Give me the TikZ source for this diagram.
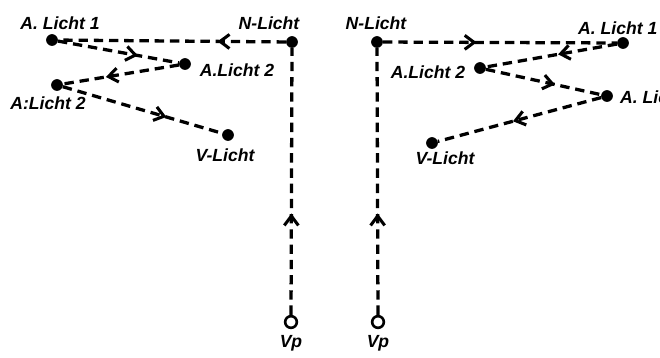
\documentclass[tikz,border=0pt]{standalone}
\usepackage{fontspec}
\setmainfont{Liberation Sans}
\usetikzlibrary{arrows.meta}
\usetikzlibrary{decorations.markings}
\tikzset{circ/.style = {fill, circle, inner sep = 0, minimum size = 10}}
\tikzset{ring/.style = {draw, circle, fill = white, line width = 2.2pt, inner sep = 0, minimum size = 10}}
\tikzset{lab/.style = {font = \fontsize{15}{17}\selectfont\bfseries\itshape, inner sep = 0}}
\tikzset{route/.style = {line width = 2.8pt, dash pattern = on 8pt off 5pt,
    decoration = {markings, mark = at position #1 with {\arrow{Straight Barb[line width = 2.6pt, length = 8pt, width = 12pt]}}},
    postaction = {decorate}}}

\begin{document}
\begin{tikzpicture}[x = 0.03cm, y = -0.03cm]
    \useasboundingbox (0,0) rectangle (660,358);
    % left picture
    \node[circ] (nl) at (292,42) {};
    \node[circ] (al1) at (52,40) {};
    \node[circ] (al2) at (185,64) {};
    \node[circ] (al3) at (57,85) {};
    \node[circ] (vl) at (228,135) {};
    \node[ring] (pl) at (291,322) {};
    % right picture
    \node[circ] (nr) at (377,42) {};
    \node[circ] (ar1) at (623,43) {};
    \node[circ] (ar2) at (480,68) {};
    \node[circ] (ar3) at (607,96) {};
    \node[circ] (vr) at (432,143) {};
    \node[ring] (pr) at (378,322) {};
    \draw[route = 0.38] (pl) -- (nl);
    \draw[route = 0.3] (nl) -- (al1);
    \draw[route = 0.66] (al1) -- (al2);
    \draw[route = 0.63] (al2) -- (al3);
    \draw[route = 0.65] (al3) -- (vl);
    \draw[route = 0.38] (pr) -- (nr);
    \draw[route = 0.4] (nr) -- (ar1);
    \draw[route = 0.45] (ar1) -- (ar2);
    \draw[route = 0.6] (ar2) -- (ar3);
    \draw[route = 0.54] (ar3) -- (vr);
    \node[lab] (tnl) at (269,23) {N-Licht};
    \node[lab] (tal1) at (60,23) {A. Licht 1};
    \node[lab] (tal2) at (237,70) {A.Licht 2};
    \node[lab] (tal3) at (48,103) {A:Licht 2};
    \node[lab] (tvl) at (225,155) {V-Licht};
    \node[lab] (tpl) at (291,343) {Vp};
    \node[lab] (tnr) at (376,23) {N-Licht};
    \node[lab, anchor = west] (tar1) at (578,28) {A. Licht 1};
    \node[lab] (tar2) at (428,72) {A.Licht 2};
    \node[lab, anchor = west] (tar3) at (620,97) {A. Licht 2};
    \node[lab] (tvr) at (445,158) {V-Licht};
    \node[lab] (tpr) at (378,343) {Vp};
\end{tikzpicture}
\end{document}
